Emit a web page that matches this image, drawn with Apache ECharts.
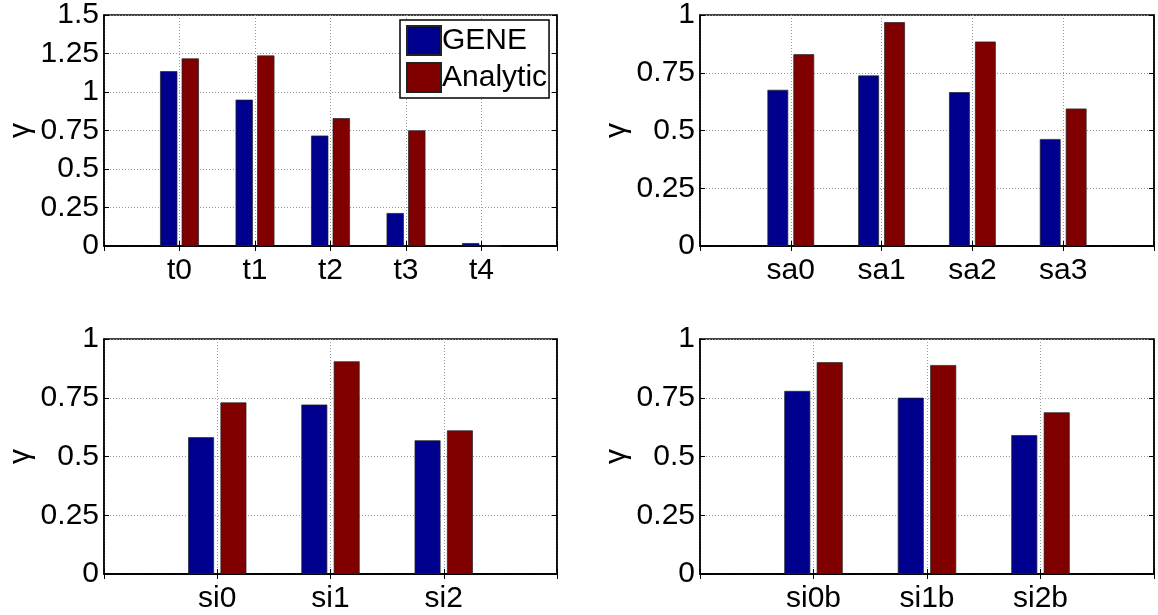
<!DOCTYPE html>
<html>
<head>
<meta charset="utf-8">
<script src="https://cdn.jsdelivr.net/npm/echarts@6/dist/echarts.min.js"></script>
<style>
  html, body { margin: 0; padding: 0; background: #fff; }
  #chart { width: 1158px; height: 615px; }
</style>
</head>
<body>
<div id="chart"></div>
<script>
// values
var tCats = ['t0', 't1', 't2', 't3', 't4'];
var tGene = [1.135, 0.950, 0.717, 0.214, 0.019];
var tAnalytic = [1.218, 1.237, 0.830, 0.751, 0];

var saCats = ['sa0', 'sa1', 'sa2', 'sa3'];
var saGene = [0.676, 0.738, 0.666, 0.463];
var saAnalytic = [0.830, 0.969, 0.885, 0.595];

var siCats = ['si0', 'si1', 'si2'];
var siGene = [0.582, 0.721, 0.569];
var siAnalytic = [0.730, 0.905, 0.611];

var sibCats = ['si0b', 'si1b', 'si2b'];
var sibGene = [0.779, 0.750, 0.591];
var sibAnalytic = [0.901, 0.889, 0.688];

var yMaxTop = 1.5;
var yMaxOther = 1;
var yStep = 0.25;

var FONT = 'Liberation Sans, Arial, sans-serif';
var FS = 30;
var BLUE = '#00008f';
var RED = '#800000';

var panels = [
    { cats: tCats, gene: tGene, analytic: tAnalytic, max: yMaxTop, left: 104, top: 12, right: 601, bottom: 369 },
    { cats: saCats, gene: saGene, analytic: saAnalytic, max: yMaxOther, left: 700, top: 12, right: 4, bottom: 369 },
    { cats: siCats, gene: siGene, analytic: siAnalytic, max: yMaxOther, left: 104, top: 339, right: 601, bottom: 41 },
    { cats: sibCats, gene: sibGene, analytic: sibAnalytic, max: yMaxOther, left: 700, top: 339, right: 4, bottom: 41 }
];

var grids = [], xAxes = [], yAxes = [], series = [];

panels.forEach(function (p, i) {
    // empty slots at both ends give MATLAB's xlim [0, n+1]
    var axisCats = [''].concat(p.cats, ['']);
    grids.push({
        left: p.left, top: p.top, right: p.right, bottom: p.bottom,
        show: true, borderColor: '#000', borderWidth: 1.5, backgroundColor: '#fff'
    });
    var tick = { show: true, inside: true, length: 5, lineStyle: { color: '#000', width: 1 } };
    xAxes.push({
        type: 'category', gridIndex: i, data: axisCats, boundaryGap: false, position: 'bottom',
        axisLine: { show: true, lineStyle: { color: '#000', width: 1.5 } },
        axisTick: tick,
        axisLabel: { color: '#000', fontSize: FS, fontFamily: FONT, margin: 10, interval: 0 },
        splitLine: { show: true, lineStyle: { color: '#9a9a9a', type: [1, 2], width: 1 } }
    });
    xAxes.push({
        type: 'category', gridIndex: i, data: axisCats, boundaryGap: false, position: 'top',
        axisLine: { show: true, lineStyle: { color: '#000', width: 1.5 } },
        axisTick: tick, axisLabel: { show: false }, splitLine: { show: false }
    });
    yAxes.push({
        type: 'value', gridIndex: i, min: 0, max: p.max, interval: yStep, position: 'left',
        name: 'γ', nameLocation: 'middle', nameRotate: 90, nameGap: 68,
        nameTextStyle: { color: '#000', fontSize: FS, fontFamily: FONT },
        axisLine: { show: true, lineStyle: { color: '#000', width: 1.5 } },
        axisTick: tick,
        axisLabel: { color: '#000', fontSize: FS, fontFamily: FONT, margin: 5 },
        splitLine: { show: true, lineStyle: { color: '#9a9a9a', type: [1, 2], width: 1 } }
    });
    yAxes.push({
        type: 'value', gridIndex: i, min: 0, max: p.max, interval: yStep, position: 'right',
        axisLine: { show: true, lineStyle: { color: '#000', width: 1.5 } },
        axisTick: tick, axisLabel: { show: false }, splitLine: { show: false }
    });
    var common = {
        type: 'bar', xAxisIndex: i * 2, yAxisIndex: i * 2,
        barWidth: '22.86%', barGap: '25%', silent: true, animation: false
    };
    series.push(Object.assign({}, common, {
        name: 'GENE',
        itemStyle: { color: BLUE, borderColor: '#222', borderWidth: 0.7 },
        data: p.cats.map(function (c, k) { return [c, p.gene[k]]; })
    }));
    series.push(Object.assign({}, common, {
        name: 'Analytic',
        itemStyle: { color: RED, borderColor: '#222', borderWidth: 0.7 },
        data: p.cats.map(function (c, k) { return [c, p.analytic[k]]; })
    }));
});

var chart = echarts.init(document.getElementById('chart'), null, { renderer: 'canvas' });
chart.setOption({
    animation: false,
    backgroundColor: '#fff',
    textStyle: { fontFamily: FONT, color: '#000' },
    legend: {
        data: ['GENE', 'Analytic'],
        orient: 'vertical', left: 400, top: 20,
        itemWidth: 34, itemHeight: 29, itemGap: 6,
        padding: [5, 2, 5, 6],
        backgroundColor: '#fff', borderColor: '#000', borderWidth: 1.5, borderRadius: 0,
        icon: 'rect',
        textStyle: { color: '#000', fontSize: FS, fontFamily: FONT, padding: [0, 0, 0, -4] },
        selectedMode: false
    },
    grid: grids,
    xAxis: xAxes,
    yAxis: yAxes,
    series: series
});
</script>
</body>
</html>
